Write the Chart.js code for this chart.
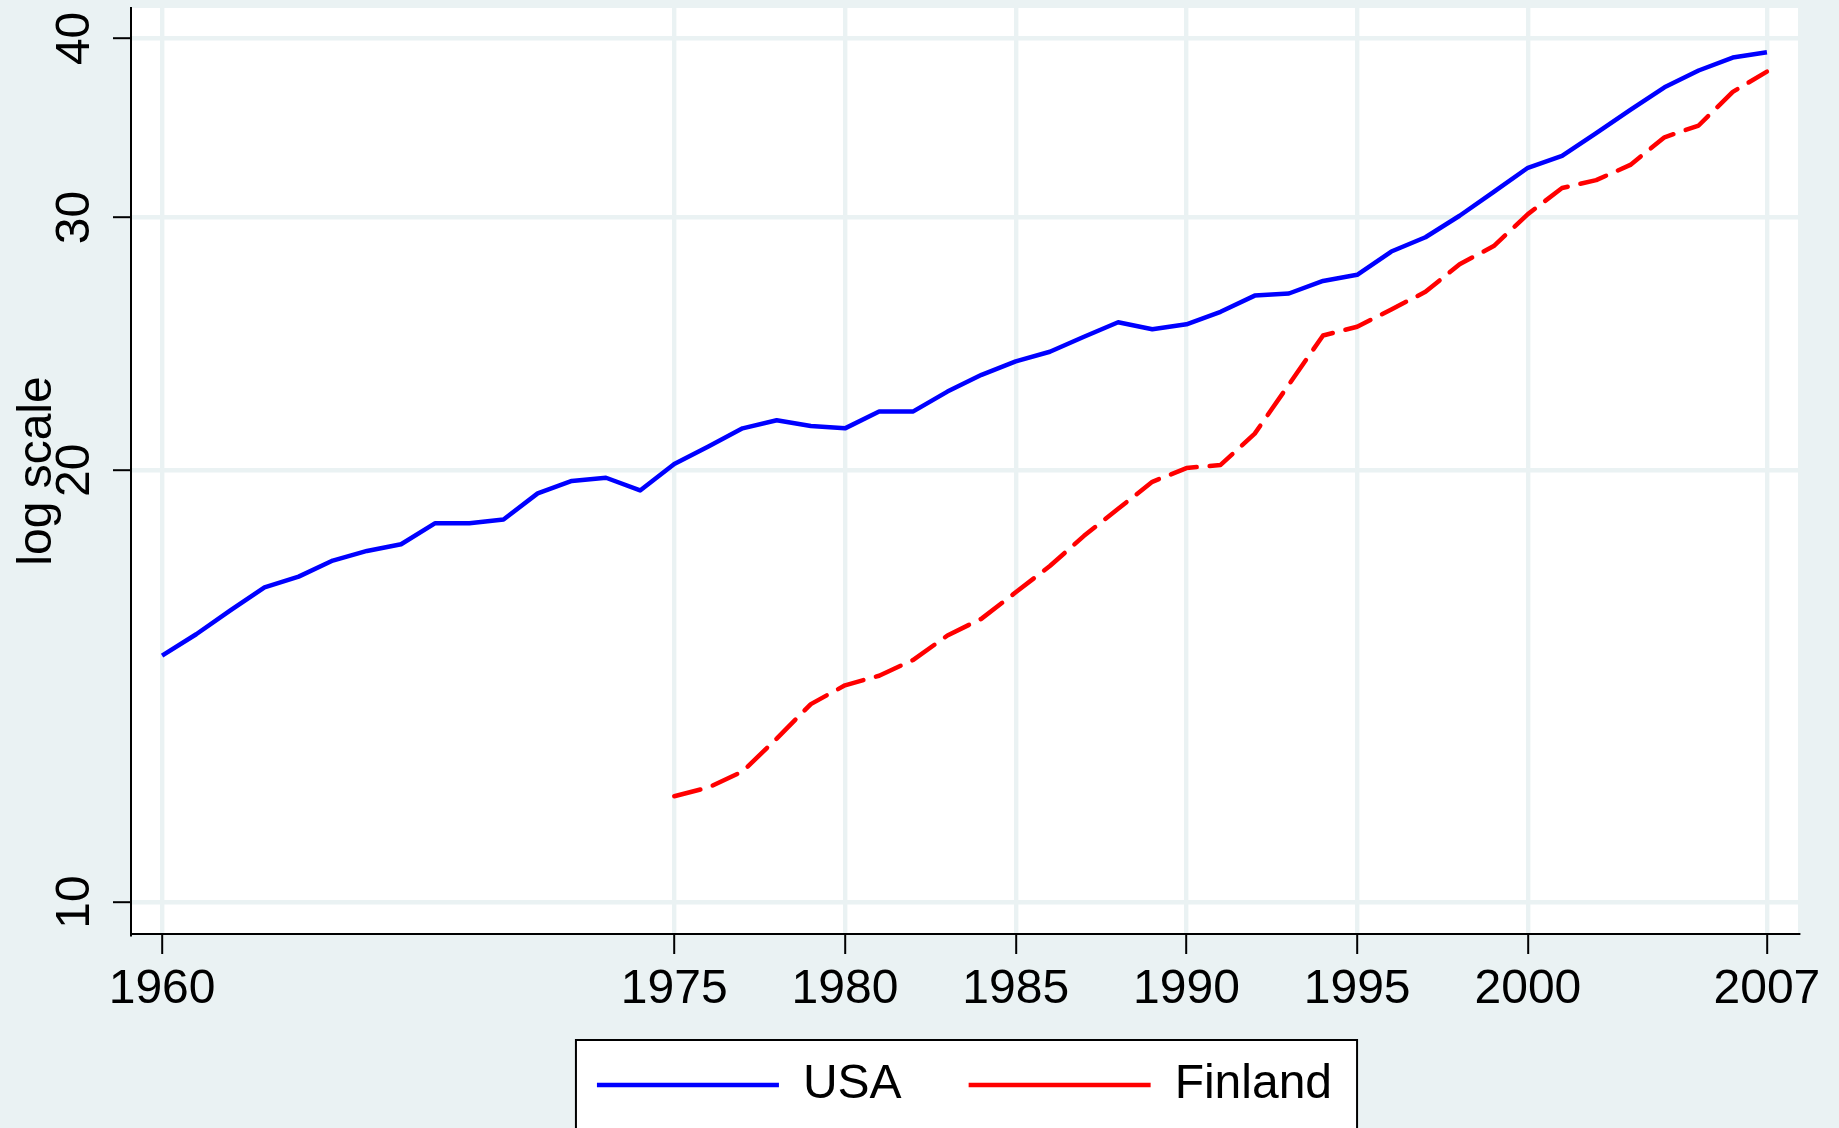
<!DOCTYPE html>
<html>
<head>
<meta charset="utf-8">
<title>USA vs Finland, log scale</title>
<script src="https://cdn.jsdelivr.net/npm/chart.js@4.4.1/dist/chart.umd.min.js"></script>
<style>
  html, body { margin: 0; padding: 0; background: #eaf2f3; }
  .chart-box { width: 1839px; height: 1128px; }
</style>
</head>
<body>
<div class="chart-box">
  <canvas id="myChart"></canvas>
</div>
<script>
/* data */

const years = [1960, 1961, 1962, 1963, 1964, 1965, 1966, 1967, 1968, 1969,
  1970, 1971, 1972, 1973, 1974, 1975, 1976, 1977, 1978, 1979,
  1980, 1981, 1982, 1983, 1984, 1985, 1986, 1987, 1988, 1989,
  1990, 1991, 1992, 1993, 1994, 1995, 1996, 1997, 1998, 1999,
  2000, 2001, 2002, 2003, 2004, 2005, 2006, 2007];

const usa = [14.85, 15.37, 15.97, 16.57, 16.86, 17.30, 17.57, 17.76, 18.37, 18.37,
  18.48, 19.27, 19.66, 19.76, 19.36, 20.20, 20.78, 21.39, 21.67, 21.47,
  21.39, 21.98, 21.98, 22.69, 23.31, 23.82, 24.19, 24.78, 25.36, 25.08,
  25.28, 25.79, 26.47, 26.56, 27.10, 27.37, 28.41, 29.07, 30.09, 31.27,
  32.50, 33.12, 34.36, 35.67, 36.98, 37.99, 38.79, 39.12];

// Finland series starts in 1975
const finlandYears = years.slice(years.indexOf(1975));
const finland = [11.85, 12.02, 12.33, 13.00, 13.74,
  14.16, 14.38, 14.75, 15.34, 15.76, 16.44, 17.15, 18.00, 18.80, 19.63,
  20.07, 20.17, 21.21, 22.95, 24.83, 25.18, 25.89, 26.63, 27.84, 28.66,
  30.17, 31.46, 31.86, 32.65, 34.13, 34.78, 36.71, 37.92];

const xTicks = [1960, 1975, 1980, 1985, 1990, 1995, 2000, 2007];
const yTicks = [10, 20, 30, 40];

/* colors */
const bgColor = '#eaf2f3';
const gridColor = '#eaf2f3';
const axisColor = '#000000';

Chart.defaults.font.family = "'Liberation Sans', Arial, sans-serif";
Chart.defaults.font.size = 48;
Chart.defaults.color = '#000000';

/* background, white plot region and legend frame */
const backdrop = {
  id: 'backdrop',
  afterLayout(chart) {
    // pull the legend row up, the x labels need the taller axis box
    const lg = chart.legend;
    if (lg) {
      lg.top -= 20;
      lg.bottom -= 20;
    }
  },
  beforeDraw(chart) {
    const ctx = chart.ctx;
    const a = chart.chartArea;
    ctx.save();
    ctx.fillStyle = bgColor;
    ctx.fillRect(0, 0, chart.width, chart.height);
    ctx.fillStyle = '#ffffff';
    ctx.fillRect(a.left, a.top, a.right - a.left, a.bottom - a.top);

    const hb = chart.legend && chart.legend.legendHitBoxes;
    if (hb && hb.length) {
      const last = hb[hb.length - 1];
      const left = hb[0].left - 21;
      const right = last.left + last.width + 25;
      const top = hb[0].top + 24 - 45;
      ctx.fillStyle = '#ffffff';
      ctx.fillRect(left, top, right - left, chart.height - top + 10);
      ctx.strokeStyle = '#000000';
      ctx.lineWidth = 2;
      ctx.strokeRect(left, top, right - left, chart.height - top + 10);
    }
    ctx.restore();
  }
};

/* chart */
const myChart = document.getElementById('myChart').getContext('2d');

const gdpChart = new Chart(myChart, {
  type: 'line',
  data: {
    datasets: [{
      label: 'USA',
      data: years.map((yr, i) => ({ x: yr, y: usa[i] })),
      borderColor: '#0000ff',
      backgroundColor: '#0000ff',
      borderWidth: 4.5,
      borderJoinStyle: 'round',
      pointRadius: 0,
      tension: 0
    }, {
      label: 'Finland',
      data: finlandYears.map((yr, i) => ({ x: yr, y: finland[i] })),
      borderColor: '#ff0000',
      backgroundColor: '#ff0000',
      borderWidth: 4.5,
      borderDash: [27, 13],
      borderCapStyle: 'round',
      borderJoinStyle: 'round',
      pointRadius: 0,
      tension: 0
    }]
  },
  options: {
    responsive: true,
    maintainAspectRatio: false,
    animation: false,
    layout: {
      padding: { top: 8, right: 41, bottom: 9, left: 0 }
    },
    plugins: {
      tooltip: { enabled: false },
      legend: {
        position: 'bottom',
        fullSize: false,
        maxHeight: 105,
        labels: {
          usePointStyle: true,
          pointStyle: 'line',
          pointStyleWidth: 182,
          padding: 67,
          color: '#000000',
          font: { size: 48 }
        }
      }
    },
    scales: {
      x: {
        type: 'linear',
        min: 1959.09,
        max: 2007.91,
        afterBuildTicks: scale => {
          scale.ticks = xTicks.map(v => ({ value: v }));
        },
        afterFit: scale => {
          scale.height = 80;
          scale.paddingLeft = 0;
          scale.paddingRight = 0;
        },
        grid: {
          color: gridColor,
          lineWidth: 4.4,
          tickColor: axisColor,
          tickWidth: 2,
          tickLength: 20
        },
        border: { color: axisColor, width: 2 },
        ticks: {
          autoSkip: false,
          maxRotation: 0,
          padding: 7,
          font: { size: 48 },
          callback: val => String(val)
        }
      },
      y: {
        type: 'logarithmic',
        min: 9.5,
        max: 42,
        afterBuildTicks: scale => {
          scale.ticks = yTicks.map(v => ({ value: v }));
        },
        afterFit: scale => {
          scale.width = 131;
          scale.paddingTop = 0;
          scale.paddingBottom = 0;
        },
        grid: {
          color: gridColor,
          lineWidth: 4.4,
          tickColor: axisColor,
          tickWidth: 2,
          tickLength: 18
        },
        border: { color: axisColor, width: 2 },
        title: {
          display: true,
          text: 'log scale',
          font: { size: 48 },
          padding: { top: 9, bottom: 0 }
        },
        ticks: {
          autoSkip: false,
          minRotation: 90,
          maxRotation: 90,
          crossAlign: 'center',
          padding: 11,
          font: { size: 48 },
          callback: val => String(val)
        }
      }
    }
  },
  plugins: [backdrop]
});
</script>
</body>
</html>
